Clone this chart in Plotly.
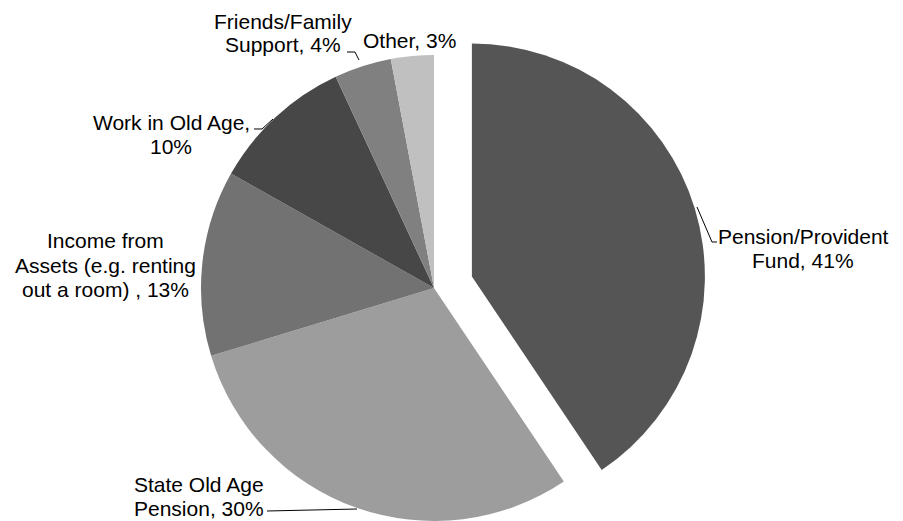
import math
import plotly.graph_objects as go

# ---- data ----
categories = ["Pension/Provident Fund", "State Old Age Pension",
              "Income from Assets (e.g. renting out a room)",
              "Work in Old Age", "Friends/Family Support", "Other"]
values = [41, 30, 13, 10, 4, 3]
label_lines = [
    ["Pension/Provident", "Fund, 41%"],
    ["State Old Age", "Pension, 30%"],
    ["Income from", "Assets (e.g. renting", "out a room) , 13%"],
    ["Work in Old Age,", "10%"],
    ["Friends/Family", "Support, 4%"],
    ["Other, 3%"],
]
colors = ["#555555", "#9d9d9d", "#727272", "#474747", "#808080", "#c0c0c0"]

# ---- layout constants (pixels) ----
W, H = 903, 521
CX, CY, R = 434, 288, 233          # main pie centre / radius
PULL = 0.17                        # explode fraction for first slice
FONT = dict(family="Liberation Sans, Arial, sans-serif", size=21, color="#000000")
LINE_GAP = 24

# label anchor: centre x, first baseline y
label_pos = [(803, 243), (199, 491), (105, 248), (171, 129), (283, 28), (409, 48)]

def dom(cx, cy, r):
    return dict(x=[(cx - r) / W, (cx + r) / W],
                y=[max(0, 1 - (cy + r) / H), min(1, 1 - (cy - r) / H)])

total = sum(values)
mid = 0.5 * values[0] / total * 2 * math.pi
dx = PULL * R * math.sin(mid)
dy = -PULL * R * math.cos(mid)

transparent = "rgba(0,0,0,0)"
colA = [transparent] + colors[1:]
colB = [colors[0]] + [transparent] * (len(values) - 1)

fig = go.Figure()
fig.add_trace(go.Pie(labels=categories, values=values, sort=False,
                     direction="clockwise", rotation=0, textinfo="none",
                     marker=dict(colors=colA, line=dict(width=0)),
                     domain=dom(CX, CY, R), showlegend=False, hoverinfo="skip"))
fig.add_trace(go.Pie(labels=categories, values=values, sort=False,
                     direction="clockwise", rotation=0, textinfo="none",
                     marker=dict(colors=colB, line=dict(width=0)),
                     domain=dom(CX + dx, CY + dy, R), showlegend=False, hoverinfo="skip"))

annotations = []
for lines, (lx, ly) in zip(label_lines, label_pos):
    for i, t in enumerate(lines):
        base = ly + i * LINE_GAP
        annotations.append(dict(text=t, x=lx / W, y=1 - (base - 7) / H,
                                xref="paper", yref="paper", xanchor="center",
                                yanchor="middle", showarrow=False, font=FONT))

leaders = [
    [(697, 207), (712, 242), (717, 242)],
    [(267, 511), (357, 509)],
    [(254, 129), (262, 129), (273, 119)],
    [(347, 52), (355, 52), (359, 60)],
]
shapes = []
for pts in leaders:
    path = "M " + " L ".join(f"{x / W:.5f},{1 - y / H:.5f}" for x, y in pts)
    shapes.append(dict(type="path", path=path, xref="paper", yref="paper",
                       line=dict(color="#000000", width=1)))

fig.update_layout(width=W, height=H, margin=dict(l=0, r=0, t=0, b=0),
                  paper_bgcolor="white", plot_bgcolor="white",
                  annotations=annotations, shapes=shapes)

fig.write_html("out.html")
